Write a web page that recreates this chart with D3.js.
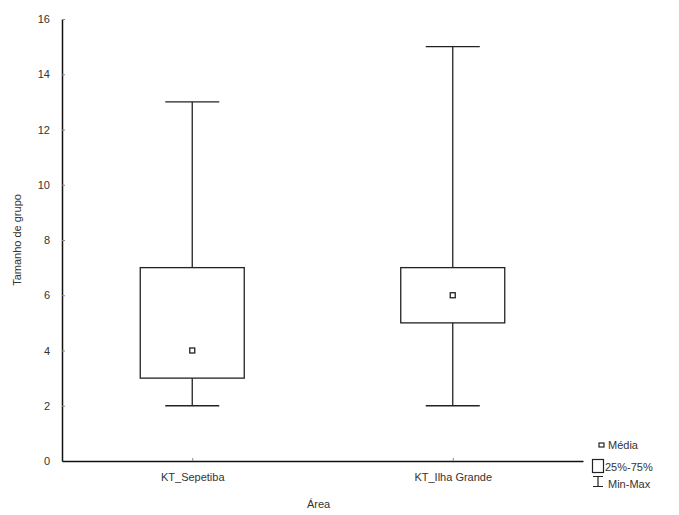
<!DOCTYPE html>
<html>
<head>
<meta charset="utf-8">
<script src="https://cdn.jsdelivr.net/npm/d3@7"></script>
<style>
  body { margin: 0; background: #fff; }
  text { font-family: Arial, "Liberation Sans", sans-serif; fill: #333; }
</style>
</head>
<body>
<svg id="chart" width="679" height="515"></svg>
<script>
// data
var areas = ["KT_Sepetiba", "KT_Ilha Grande"];
var mins = [2, 2];
var q1s = [3, 5];
var q3s = [7, 7];
var maxs = [13, 15];
var means = [4, 6];
var yTicks = [0, 2, 4, 6, 8, 10, 12, 14, 16];
var legendLabels = ["Média", "25%-75%", "Min-Max"];

var svg = d3.select("#chart");
var plotLeft = 62, plotRight = 583, plotTop = 19, plotBottom = 461;

var x = d3.scalePoint().domain(areas).range([plotLeft, plotRight]).padding(0.5);
var y = d3.scaleLinear().domain([0, 16]).range([plotBottom, plotTop]);

var boxW = 104, capW = 54, meanS = 5;

// axes
var yAxis = svg.append("g")
  .attr("transform", "translate(" + plotLeft + ",0)")
  .call(d3.axisLeft(y).tickValues(yTicks).tickSizeInner(-3).tickSizeOuter(0).tickPadding(12));
var xAxis = svg.append("g")
  .attr("transform", "translate(0," + plotBottom + ")")
  .call(d3.axisBottom(x).tickSizeInner(-3).tickSizeOuter(0).tickPadding(10));
[yAxis, xAxis].forEach(function (a) {
  a.select(".domain").attr("stroke", "#111").attr("stroke-width", 1.5);
  a.selectAll(".tick line").attr("stroke", "#888");
  a.selectAll("text").attr("font-size", 11).attr("fill", "#333");
});
xAxis.selectAll(".tick text").attr("dy", "0.9em");

svg.append("text")
  .attr("transform", "translate(21," + ((plotTop + plotBottom) / 2) + ") rotate(-90)")
  .attr("text-anchor", "middle")
  .attr("font-size", 11)
  .text("Tamanho de grupo");
svg.append("text")
  .attr("x", (plotLeft + plotRight) / 2 - 4).attr("y", 508)
  .attr("text-anchor", "middle")
  .attr("font-size", 11)
  .text("Área");

// boxes
var g = svg.append("g").attr("stroke", "#222").attr("stroke-width", 1.3).attr("fill", "none");
areas.forEach(function (a, i) {
  var cx = x(a);
  g.append("line").attr("x1", cx).attr("x2", cx).attr("y1", y(maxs[i])).attr("y2", y(q3s[i]));
  g.append("line").attr("x1", cx).attr("x2", cx).attr("y1", y(q1s[i])).attr("y2", y(mins[i]));
  g.append("line").attr("x1", cx - capW / 2).attr("x2", cx + capW / 2).attr("y1", y(maxs[i])).attr("y2", y(maxs[i]));
  g.append("line").attr("x1", cx - capW / 2).attr("x2", cx + capW / 2).attr("y1", y(mins[i])).attr("y2", y(mins[i]));
  g.append("rect").attr("x", cx - boxW / 2).attr("y", y(q3s[i]))
    .attr("width", boxW).attr("height", y(q1s[i]) - y(q3s[i])).attr("fill", "#fff");
  g.append("rect").attr("x", cx - meanS / 2).attr("y", y(means[i]) - meanS / 2)
    .attr("width", meanS).attr("height", meanS).attr("fill", "#fff");
});

// legend
var lg = svg.append("g");
lg.append("rect").attr("x", 599).attr("y", 443).attr("width", 5).attr("height", 4)
  .attr("fill", "#fff").attr("stroke", "#222").attr("stroke-width", 1.2);
lg.append("rect").attr("x", 592.5).attr("y", 459.5).attr("width", 11).attr("height", 13)
  .attr("fill", "#fff").attr("stroke", "#222").attr("stroke-width", 1.2);
lg.append("path").attr("d", "M593,476.5H603M598,476.5V486.5M593,486.5H603")
  .attr("fill", "none").attr("stroke", "#222").attr("stroke-width", 1.2);
var ly = [449, 471, 488];
legendLabels.forEach(function (t, i) {
  lg.append("text").attr("x", i === 1 ? 605 : 608).attr("y", ly[i])
    .attr("font-size", 11).text(t);
});
</script>
</body>
</html>
